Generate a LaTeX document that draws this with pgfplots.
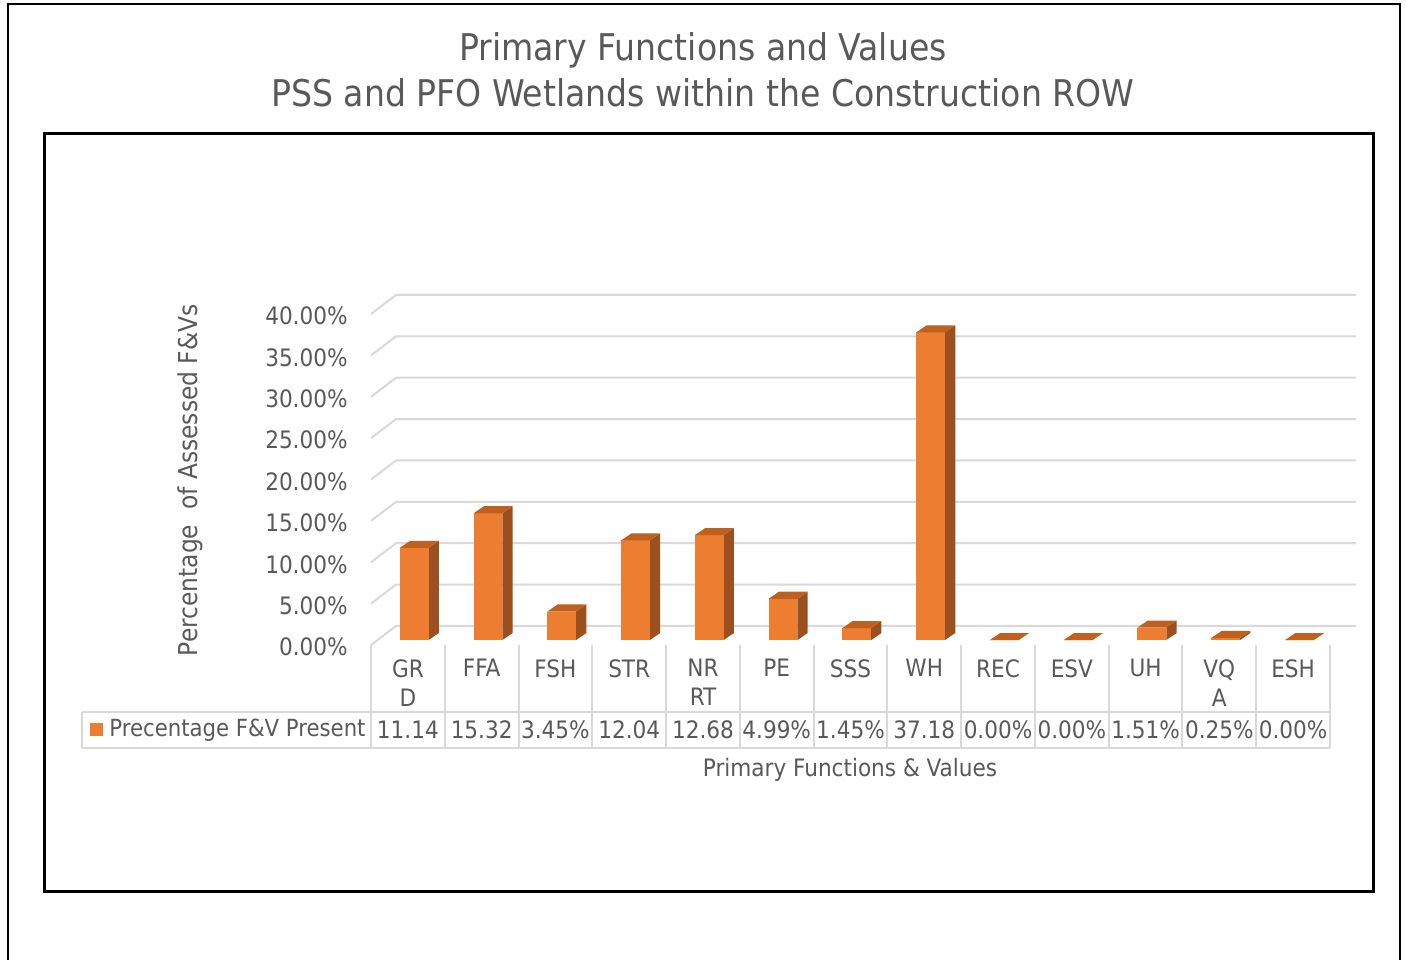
\documentclass[border=0pt]{standalone}
\usepackage{fontspec}
\setmainfont{DejaVu Sans Condensed}
\usepackage{pgfplots}
\usepackage{pgfplotstable}
\pgfplotsset{compat=1.18}
\definecolor{barfront}{HTML}{ED7D31}
\definecolor{barside}{HTML}{9C4F1F}
\definecolor{bartop}{HTML}{C0601E}
\definecolor{txt}{HTML}{595959}
\definecolor{gridc}{HTML}{D9D9D9}

\pgfplotstableread{
x v lab
0 11.14 11.14
1 15.32 15.32
2 3.45 3.45\%
3 12.04 12.04
4 12.68 12.68
5 4.99 4.99\%
6 1.45 1.45\%
7 37.18 37.18
8 0.00 0.00\%
9 0.00 0.00\%
10 1.51 1.51\%
11 0.25 0.25\%
12 0.00 0.00\%
}\datatable

\newcommand{\tickfont}{\fontsize{12}{14.5}\selectfont}

\begin{document}
\begin{tikzpicture}
\path[use as bounding box] (0,0) rectangle (703pt,-480pt);
% frames
\draw[black, line width=1pt] (4pt,-480pt) -- (4pt,-2pt) -- (700pt,-2pt) -- (700pt,-480pt);
\draw[black, line width=1.5pt] (22pt,-66.5pt) rectangle (686.5pt,-445.5pt);
% title
\node[text=txt, font=\fontsize{18.4}{23}\selectfont, align=center] at (351.5pt,-35pt)
  {Primary Functions and Values\\PSS and PFO Wetlands within the Construction ROW};

\begin{axis}[
  at={(185.5pt,-322.5pt)}, anchor=south west,
  scale only axis, width=479.5pt, height=165.5pt,
  xmin=-0.5, xmax=12.5, ymin=0, ymax=40,
  clip=false,
  axis line style={draw=none},
  tick style={draw=none},
  ytick={0,5,10,15,20,25,30,35,40},
  yticklabels={0.00\%,5.00\%,10.00\%,15.00\%,20.00\%,25.00\%,30.00\%,35.00\%,40.00\%},
  yticklabel style={anchor=east, inner sep=0pt, xshift=-11.5pt, yshift=-1pt, font=\tickfont, text=txt},
  xtick={0,...,12},
  xticklabels={{GR\\D},FFA,FSH,STR,{NR\\RT},PE,SSS,WH,REC,ESV,UH,{VQ\\A},ESH},
  xticklabel style={anchor=north, inner sep=0pt, yshift=-7pt, align=center, font=\tickfont, text=txt},
  ylabel={Percentage\ \ of Assessed F\&Vs},
  every axis y label/.style={at={(axis description cs:-0.1887,0.498)}, rotate=90, anchor=center, font=\fontsize{13}{15}\selectfont, text=txt},
  xlabel={Primary Functions \& Values},
  every axis x label/.style={at={(axis description cs:0.4995,-0.378)}, anchor=center, font=\fontsize{12}{14}\selectfont, text=txt},
]
% back-wall gridlines
\pgfplotsinvokeforeach{0,5,10,15,20,25,30,35,40}{
  \draw[gridc, line width=1pt] (axis cs:-0.5,#1) -- (axis cs:-0.161,#1+2.3) -- (axis cs:12.85,#1+2.3);
}
% 3D columns
\pgfplotsforeachungrouped \i in {0,...,12}{%
  \pgfplotstablegetelem{\i}{v}\of\datatable
  \pgfmathsetmacro\xa{\i-0.11}%
  \pgfmathsetmacro\xb{\i+0.28}%
  \pgfmathsetmacro\xc{\i+0.42}%
  \pgfmathsetmacro\xd{\i+0.03}%
  \pgfmathsetmacro\yb{\pgfplotsretval+0.6}%
  \pgfmathsetmacro\yc{\pgfplotsretval+1.45}%
  \edef\tmp{%
    \noexpand\addplot[draw=none,fill=barside] coordinates {(\xb,0.6) (\xb,\yb) (\xc,\yc) (\xc,1.45)} -- cycle;
    \noexpand\addplot[draw=none,fill=barfront] coordinates {(\xa,0.6) (\xb,0.6) (\xb,\yb) (\xa,\yb)} -- cycle;
    \noexpand\addplot[draw=none,fill=bartop] coordinates {(\xa,\yb) (\xb,\yb) (\xc,\yc) (\xd,\yc)} -- cycle;
  }%
  \tmp
}
% data table values
\addplot[draw=none, mark=none, nodes near coords, point meta=explicit symbolic,
  nodes near coords style={anchor=center, inner sep=0pt, font=\tickfont, text=txt}]
  table[x=x, y expr=-10.25, meta=lab] {\datatable};
\end{axis}

% data table lines
\foreach \k in {0,...,13}{
  \draw[gridc, line width=1pt] ({(371+73.77*\k)*0.5pt},-322.5pt) -- ++(0,-51.5pt);
}
\draw[gridc, line width=1pt] (41pt,-356pt) -- (665pt,-356pt);
\draw[gridc, line width=1pt] (41pt,-374pt) -- (665pt,-374pt);
\draw[gridc, line width=1pt] (41pt,-356pt) -- (41pt,-374pt);
% legend key in table
\fill[barfront] (45pt,-361.5pt) rectangle (51.5pt,-368pt);
\node[anchor=west, inner sep=0pt, text=txt, font=\fontsize{11.8}{14}\selectfont] at (54.5pt,-365.2pt) {Precentage F\&V Present};
\end{tikzpicture}
\end{document}
